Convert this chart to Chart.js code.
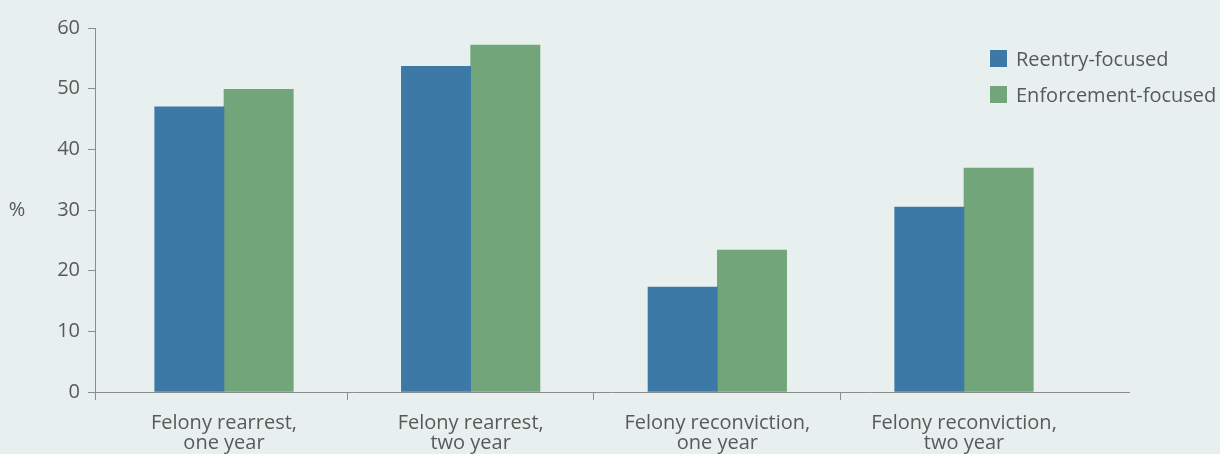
<!DOCTYPE html>
<html>
<head>
<meta charset="utf-8">
<script src="https://cdn.jsdelivr.net/npm/chart.js@4.4.1/dist/chart.umd.min.js"></script>
<style>
    html, body { margin: 0; padding: 0; background: #e7f0ef; }
    #wrap { width: 1220px; height: 454px; }
</style>
</head>
<body>
<div id="wrap"><canvas id="chart" width="1220" height="454"></canvas></div>
<script>
"use strict";

// data
const categories = [
    ["Felony rearrest,", "one year"],
    ["Felony rearrest,", "two year"],
    ["Felony reconviction,", "one year"],
    ["Felony reconviction,", "two year"]
];
const seriesLabels = ["Reentry-focused", "Enforcement-focused"];
const reentryValues = [47.0, 53.7, 17.3, 30.5];
const enforcementValues = [49.9, 57.2, 23.4, 36.9];
const yTickValues = [0, 10, 20, 30, 40, 50, 60];

const BLUE = "#3d79a6";
const GREEN = "#72a579";
const AXIS = "#8c8c8c";
const TEXT = "#595959";
const FONT_FAMILY = "'Open Sans', Lato, sans-serif";
const FONT_SIZE = 20;

// the x axis runs a bit past the last category, so it is linear
const xMin = -0.523;
const xMax = 3.669;

function toPoints(values) {
    return values.map((v, i) => ({ x: i, y: v }));
}

const extras = {
    id: "extras",
    afterDraw(chart) {
        const ctx = chart.ctx;
        const area = chart.chartArea;
        ctx.save();
        ctx.font = FONT_SIZE + "px " + FONT_FAMILY;
        ctx.fillStyle = TEXT;
        ctx.textAlign = "center";
        ctx.textBaseline = "middle";
        ctx.fillText("%", 17, (area.top + area.bottom) / 2);

        // legend, top right
        chart.data.datasets.forEach((ds, i) => {
            const y = 50 + i * 36;
            ctx.fillStyle = ds.backgroundColor;
            ctx.fillRect(990, y, 17, 17);
            ctx.fillStyle = TEXT;
            ctx.textAlign = "left";
            ctx.fillText(ds.label, 1016, y + 10);
        });
        ctx.restore();
    }
};

new Chart(document.getElementById("chart").getContext("2d"), {
    type: "bar",
    data: {
        datasets: [
            { label: seriesLabels[0], data: toPoints(reentryValues), backgroundColor: BLUE },
            { label: seriesLabels[1], data: toPoints(enforcementValues), backgroundColor: GREEN }
        ]
    },
    options: {
        responsive: false,
        animation: false,
        barThickness: 69.3,
        layout: { padding: { top: 28, right: 91, left: 0, bottom: 0 } },
        plugins: {
            legend: { display: false },
            tooltip: { enabled: false }
        },
        scales: {
            x: {
                type: "linear",
                min: xMin,
                max: xMax,
                offset: false,
                afterBuildTicks: axis => {
                    const vals = [xMin];
                    categories.forEach((c, i) => {
                        vals.push(i);
                        if (i < categories.length - 1) vals.push(i + 0.5);
                    });
                    axis.ticks = vals.map(v => ({ value: v }));
                },
                afterFit: axis => { axis.height = 62; },
                grid: {
                    offset: false,
                    drawOnChartArea: false,
                    tickLength: 8,
                    color: c => (c.tick && Number.isInteger(c.tick.value)) ? "rgba(0,0,0,0)" : AXIS
                },
                border: { color: AXIS, width: 1 },
                ticks: {
                    autoSkip: false,
                    maxRotation: 0,
                    padding: 13,
                    color: TEXT,
                    font: { family: FONT_FAMILY, size: FONT_SIZE, lineHeight: 1.0 },
                    callback: v => Number.isInteger(v) && categories[v] ? categories[v] : ""
                }
            },
            y: {
                min: 0,
                max: 60,
                afterBuildTicks: axis => {
                    axis.ticks = yTickValues.map(v => ({ value: v }));
                },
                afterFit: axis => { axis.width = 95; },
                grid: { drawOnChartArea: false, tickLength: 7, color: AXIS },
                border: { color: AXIS, width: 1 },
                ticks: {
                    padding: 8,
                    color: TEXT,
                    font: { family: FONT_FAMILY, size: FONT_SIZE }
                }
            }
        }
    },
    plugins: [extras]
});
</script>
</body>
</html>
